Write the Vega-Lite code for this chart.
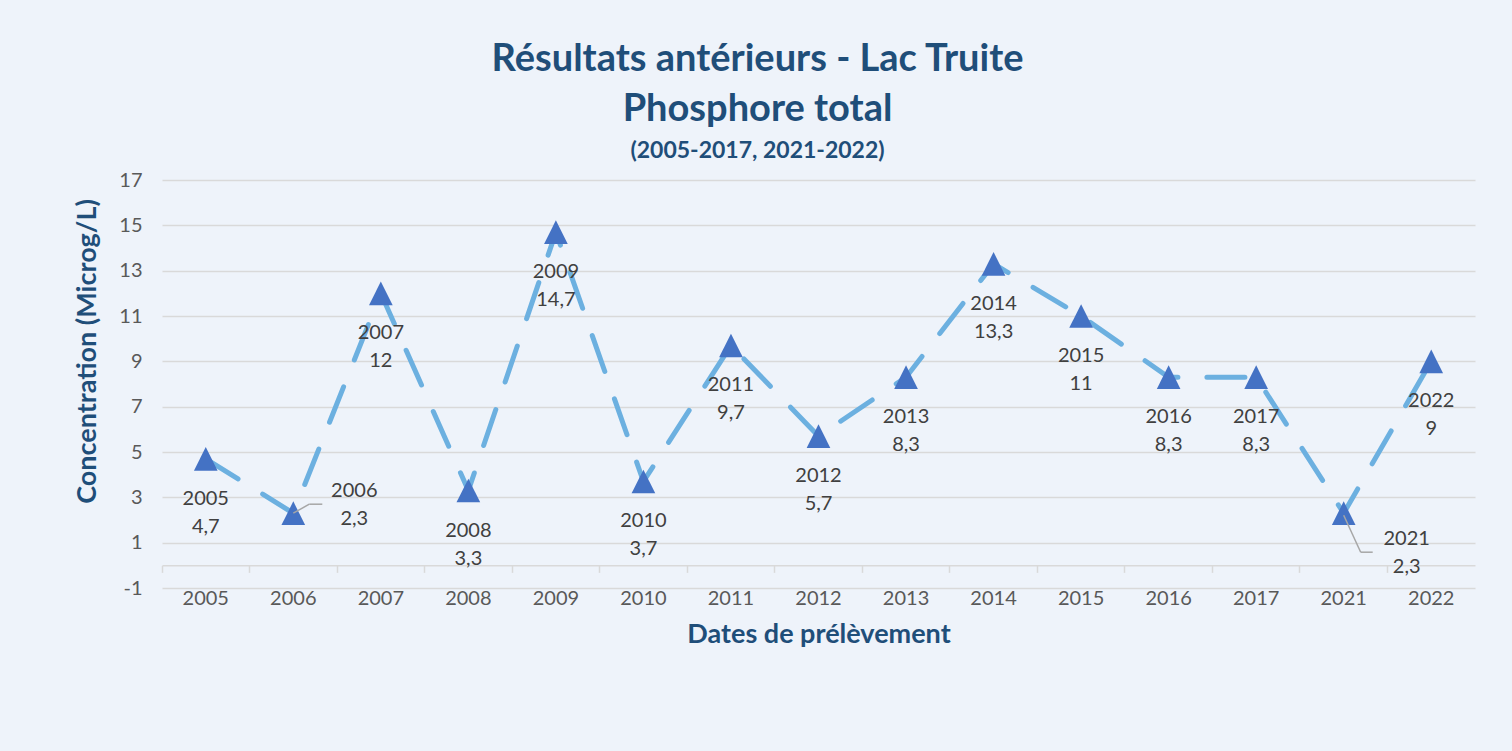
{
  "$schema": "https://vega.github.io/schema/vega-lite/v6.json",
  "width": 1313,
  "height": 408,
  "autosize": {"type": "none"},
  "padding": {"left": 162, "top": 180, "right": 37, "bottom": 163},
  "background": "#EEF3FA",
  "config": {"view": {"stroke": null}, "font": "Lato"},
  "title": {
    "text": ["Résultats antérieurs - Lac Truite", "Phosphore total"],
    "subtitle": "(2005-2017, 2021-2022)",
    "font": "Lato",
    "fontSize": 38,
    "fontWeight": "bold",
    "lineHeight": 50,
    "color": "#1F4E79",
    "subtitleFont": "Lato",
    "subtitleFontSize": 23,
    "subtitleFontWeight": "bold",
    "subtitleColor": "#1F4E79",
    "subtitlePadding": 11,
    "anchor": "middle",
    "frame": "group",
    "dx": -61,
    "offset": 7
  },
  "data": {
    "values": [
      {"year": "2005", "value": 4.7},
      {"year": "2006", "value": 2.3},
      {"year": "2007", "value": 12},
      {"year": "2008", "value": 3.3},
      {"year": "2009", "value": 14.7},
      {"year": "2010", "value": 3.7},
      {"year": "2011", "value": 9.7},
      {"year": "2012", "value": 5.7},
      {"year": "2013", "value": 8.3},
      {"year": "2014", "value": 13.3},
      {"year": "2015", "value": 11},
      {"year": "2016", "value": 8.3},
      {"year": "2017", "value": 8.3},
      {"year": "2021", "value": 2.3},
      {"year": "2022", "value": 9}
    ]
  },
  "transform": [
    {"calculate": "datum.year + '\\n' + replace(toString(datum.value), '.', ',')", "as": "label"}
  ],
  "encoding": {
    "y": {
      "field": "value",
      "type": "quantitative",
      "scale": {"domain": [-1, 17], "nice": false, "zero": false},
      "axis": {
        "values": [-1, 1, 3, 5, 7, 9, 11, 13, 15, 17],
        "labelExpr": "replace(datum.label, '\u2212', '-')",
        "grid": true,
        "gridColor": "#D9D9D9",
        "gridWidth": 1.5,
        "domain": false,
        "ticks": false,
        "labelFont": "Lato",
        "labelFontSize": 20,
        "labelColor": "#595959",
        "labelPadding": 20,
        "title": "Concentration (Microg/L)",
        "titleFont": "Lato",
        "titleFontSize": 27,
        "titleFontWeight": "bold",
        "titleColor": "#1F4E79",
        "titlePadding": 17,
        "titleY": 171
      }
    }
  },
  "layer": [
    {
      "mark": {"type": "line", "color": "#6CB0E0", "strokeWidth": 5, "strokeDash": [38, 29], "strokeCap": "round"},
      "encoding": {
        "x": {
          "field": "year", "type": "nominal", "sort": null,
          "scale": {"type": "band", "paddingInner": 0, "paddingOuter": 0},
          "axis": {
            "orient": "bottom",
            "domain": false,
            "ticks": false,
            "grid": false,
            "labelAngle": 0,
            "labelFont": "Lato",
            "labelFontSize": 20,
            "labelColor": "#595959",
            "labelPadding": 0,
            "title": "Dates de prélèvement",
            "titleFont": "Lato",
            "titleFontSize": 27,
            "titleFontWeight": "bold",
            "titleColor": "#1F4E79",
            "titlePadding": 13
          }
        }
      }
    },
    {
      "mark": {"type": "point", "shape": "M0,-1L1,1L-1,1Z", "filled": true, "color": "#4472C4", "size": 560, "opacity": 1},
      "encoding": {
        "x": {
          "field": "year", "type": "nominal", "sort": null,
          "axis": {
            "orient": "bottom",
            "offset": -22.67,
            "bandPosition": 0,
            "labels": false,
            "domain": true,
            "domainColor": "#D9D9D9",
            "domainWidth": 1.5,
            "ticks": true,
            "tickColor": "#D9D9D9",
            "tickWidth": 1.5,
            "tickSize": 7,
            "grid": false,
            "title": null
          }
        }
      }
    },
    {
      "transform": [{"filter": "datum.year != '2006' && datum.year != '2021'"}],
      "mark": {"type": "text", "baseline": "top", "align": "center", "dy": 30, "fontSize": 20, "font": "Lato", "color": "#404040", "lineBreak": "\n", "lineHeight": 28},
      "encoding": {
        "x": {"field": "year", "type": "nominal", "sort": null, "axis": null},
        "text": {"field": "label"}
      }
    },
    {
      "transform": [{"filter": "datum.year == '2006'"}],
      "mark": {"type": "text", "baseline": "top", "align": "center", "dx": 61, "dy": -32, "fontSize": 20, "font": "Lato", "color": "#404040", "lineBreak": "\n", "lineHeight": 28},
      "encoding": {
        "x": {"field": "year", "type": "nominal", "sort": null, "axis": null},
        "text": {"field": "label"}
      }
    },
    {
      "transform": [{"filter": "datum.year == '2021'"}],
      "mark": {"type": "text", "baseline": "top", "align": "center", "dx": 63, "dy": 16, "fontSize": 20, "font": "Lato", "color": "#404040", "lineBreak": "\n", "lineHeight": 28},
      "encoding": {
        "x": {"field": "year", "type": "nominal", "sort": null, "axis": null},
        "text": {"field": "label"}
      }
    },
    {
      "transform": [{"filter": "datum.year == '2006'"}],
      "mark": {"type": "rule", "color": "#A6A6A6", "strokeWidth": 1.5, "xOffset": 0, "yOffset": 0, "x2Offset": 16, "y2Offset": -9},
      "encoding": {
        "x": {"field": "year", "type": "nominal", "sort": null, "axis": null, "bandPosition": 0.5},
        "x2": {"field": "year"},
        "y2": {"field": "value"}
      }
    },
    {
      "transform": [{"filter": "datum.year == '2006'"}],
      "mark": {"type": "rule", "color": "#A6A6A6", "strokeWidth": 1.5, "xOffset": 16, "yOffset": -9, "x2Offset": 29, "y2Offset": -9},
      "encoding": {
        "x": {"field": "year", "type": "nominal", "sort": null, "axis": null, "bandPosition": 0.5},
        "x2": {"field": "year"},
        "y2": {"field": "value"}
      }
    },
    {
      "transform": [{"filter": "datum.year == '2021'"}],
      "mark": {"type": "rule", "color": "#A6A6A6", "strokeWidth": 1.5, "xOffset": 0, "yOffset": 2, "x2Offset": 17, "y2Offset": 39},
      "encoding": {
        "x": {"field": "year", "type": "nominal", "sort": null, "axis": null, "bandPosition": 0.5},
        "x2": {"field": "year"},
        "y2": {"field": "value"}
      }
    },
    {
      "transform": [{"filter": "datum.year == '2021'"}],
      "mark": {"type": "rule", "color": "#A6A6A6", "strokeWidth": 1.5, "xOffset": 17, "yOffset": 39, "x2Offset": 29, "y2Offset": 39},
      "encoding": {
        "x": {"field": "year", "type": "nominal", "sort": null, "axis": null, "bandPosition": 0.5},
        "x2": {"field": "year"},
        "y2": {"field": "value"}
      }
    }
  ],
  "resolve": {"axis": {"x": "independent"}}
}
